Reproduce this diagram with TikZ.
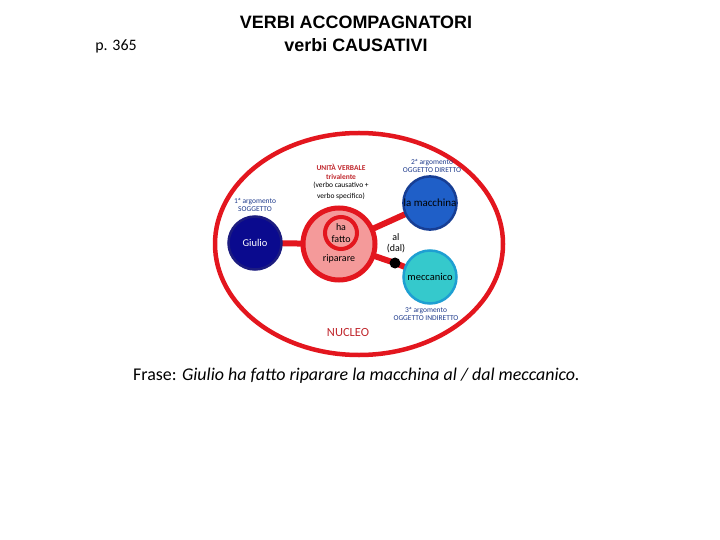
\documentclass[tikz,border=0pt]{standalone}
\usepackage{fontspec}
\setmainfont{Carlito}
\newfontfamily\titlefont{Liberation Sans}
\usetikzlibrary{shapes.geometric,backgrounds}
\definecolor{redc}{HTML}{E3161E}
\definecolor{redtxt}{HTML}{C0272D}
\definecolor{labblue}{HTML}{1F3B8C}
\definecolor{navyfill}{HTML}{0A0A8E}
\definecolor{navyline}{HTML}{1C1C80}
\definecolor{pinkfill}{HTML}{F49A9A}
\definecolor{bluefill}{HTML}{1F5FC8}
\definecolor{blueline}{HTML}{173E94}
\definecolor{tealfill}{HTML}{35C9CC}
\definecolor{tealline}{HTML}{1E9FD2}
\begin{document}
\begin{tikzpicture}[x=1bp,y=-1bp,
  conn/.style={draw=redc,line width=6bp},
  arglabel/.style={text=labblue,font=\fontsize{7.5}{8.5}\selectfont,align=center,inner sep=0pt},
  argcircle/.style={circle,inner sep=0pt,minimum size=53bp,line width=2.5bp,font=\fontsize{10.5}{11}\selectfont},
  small/.style={font=\fontsize{10}{11.5}\selectfont,inner sep=0pt,align=center}]
\useasboundingbox (0,0) rectangle (720,540);
% titles
\node[font=\titlefont\bfseries\fontsize{18}{20}\selectfont,inner sep=0pt] (t1) at (356,22) {VERBI ACCOMPAGNATORI};
\node[font=\titlefont\bfseries\fontsize{18}{20}\selectfont,inner sep=0pt] (t2) at (356,45) {verbi CAUSATIVI};
\node[font=\fontsize{16}{18}\selectfont,inner sep=0pt] (page) at (116,46) {p. 365};
% nucleus ellipse
\node[ellipse,draw=redc,line width=4.5bp,minimum width=288bp,minimum height=222bp,inner sep=0pt] (nucleo) at (359,244) {};
\node[text=redtxt,font=\fontsize{12.5}{14}\selectfont,inner sep=0pt] (nlab) at (348,333) {NUCLEO};
% circles
\node[argcircle,fill=navyfill,draw=navyline,text=white] (giulio) at (255,243) {Giulio};
\node[circle,fill=pinkfill,draw=redc,line width=5bp,minimum size=72bp,inner sep=0pt] (verb) at (339,244) {};
\node[circle,fill=pinkfill,draw=redc,line width=4bp,minimum size=32bp,inner sep=0pt,small] (inner) at (341,233) {ha\\fatto};
\node[small] (rip) at (339,259) {riparare};
\node[argcircle,fill=bluefill,draw=blueline,font=\fontsize{11}{12}\selectfont] (macch) at (430,203) {la macchina};
\node[argcircle,fill=tealfill,draw=tealline] (mecc) at (430,277) {meccanico};
\node[circle,fill=black,inner sep=0pt,minimum size=11bp] (dot) at (395,263) {};
% connectors
\begin{scope}[on background layer]
\draw[conn] (giulio.center) -- (verb.center);
\draw[conn] (verb.center) -- (macch.center);
\draw[conn] (verb.center) -- (dot.center) -- (mecc.center);
\end{scope}
% labels
\node[arglabel] (l1) at (255,205) {1ª argomento\\SOGGETTO};
\node[arglabel] (l2) at (432,166) {2ª argomento\\OGGETTO DIRETTO};
\node[arglabel] (l3) at (426,314) {3ª argomento\\OGGETTO INDIRETTO};
\node[text=redtxt,font=\bfseries\fontsize{7.5}{8.5}\selectfont,align=center,inner sep=0pt] (uv) at (341,172) {UNITÀ VERBALE\\trivalente};
\node[font=\fontsize{7.5}{10.5}\selectfont,align=center,inner sep=0pt] (vc) at (341,191) {(verbo causativo +\\verbo specifico)};
\node[small] (al) at (396,243) {al\\(dal)};
% sentence
\node[font=\fontsize{18}{20}\selectfont,inner sep=0pt,anchor=west] (frase) at (133,376) {Frase: \textit{Giulio ha fatto riparare la macchina al / dal meccanico.}};
\end{tikzpicture}
\end{document}
